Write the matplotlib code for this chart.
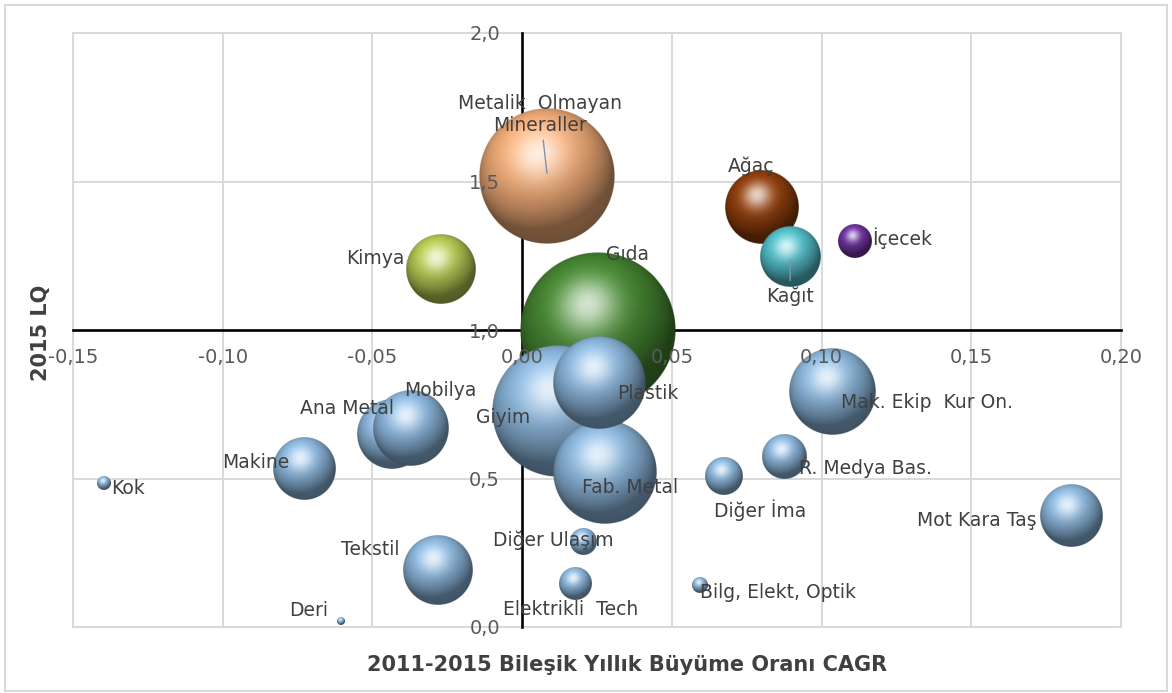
import numpy as np
import matplotlib
matplotlib.use("Agg")
import matplotlib.pyplot as plt
import matplotlib.colors as mcolors
from matplotlib.patches import Rectangle
from matplotlib.ticker import FuncFormatter

# --- Sector data: 2011-2015 CAGR, 2015 LQ and relative employment weight ---
# (listed in drawing order, later entries sit on top)
sectors = [
    "Gıda", "Metalik  Olmayan\nMineraller", "Giyim", "Fab. Metal", "Plastik",
    "Mak. Ekip  Kur On.", "Ana Metal", "Mobilya", "Ağaç", "Kimya", "Tekstil",
    "Makine", "Mot Kara Taş", "Kağıt", "R. Medya Bas.", "Diğer İma", "İçecek",
    "Elektrikli  Tech", "Diğer Ulaşım", "Bilg, Elekt, Optik", "Kok", "Deri",
]
cagr = [0.0254, 0.0084, 0.0120, 0.0277, 0.0257, 0.1035, -0.0434, -0.0371,
        0.0802, -0.0271, -0.0284, -0.0728, 0.1834, 0.0895, 0.0875, 0.0675,
        0.1112, 0.0177, 0.0204, 0.0595, -0.1396, -0.0605]
lq = [1.000, 1.518, 0.727, 0.522, 0.821, 0.791, 0.650, 0.670, 1.414, 1.205,
      0.192, 0.532, 0.374, 1.246, 0.572, 0.510, 1.300, 0.145, 0.286, 0.141,
      0.485, 0.020]
weight = [100.0, 76.0, 71.6, 44.4, 34.8, 30.4, 20.1, 23.7, 22.5, 20.1, 19.6,
          16.3, 15.8, 14.8, 7.96, 5.93, 4.75, 4.21, 2.78, 1.05, 0.80, 0.26]

x_ticks = [-0.15, -0.10, -0.05, 0.00, 0.05, 0.10, 0.15, 0.20]
y_ticks = [0.0, 0.5, 1.0, 1.5, 2.0]

# --- Styling ---
DEFAULT_COLOR = (0.56, 0.73, 0.88)
sector_colors = {
    "Gıda": (0.28, 0.54, 0.20),
    "Metalik  Olmayan\nMineraller": (0.97, 0.69, 0.48),
    "Kimya": (0.72, 0.80, 0.33),
    "Ağaç": (0.58, 0.25, 0.05),
    "Kağıt": (0.33, 0.76, 0.80),
    "İçecek": (0.44, 0.20, 0.64),
}
# label offsets from bubble centre, in pixels (x right, y up)
label_offsets = {
    "Gıda": (29, 75),
    "Metalik  Olmayan\nMineraller": (-7, 62),
    "Giyim": (-55, -6),
    "Fab. Metal": (25, -16),
    "Plastik": (49, -10),
    "Mak. Ekip  Kur On.": (95, -10),
    "Ana Metal": (-45, 25),
    "Mobilya": (29, 38),
    "Ağaç": (-11, 41),
    "Kimya": (-66, 11),
    "Tekstil": (-67, 20),
    "Makine": (-48, 6),
    "Mot Kara Taş": (-94, -5),
    "Kağıt": (0, -39),
    "R. Medya Bas.": (81, -11),
    "Diğer İma": (36, -35),
    "İçecek": (47, 3),
    "Elektrikli  Tech": (-5, -26),
    "Diğer Ulaşım": (-30, 2),
    "Bilg, Elekt, Optik": (78, -7),
    "Kok": (24, -6),
    "Deri": (-32, 11),
}
leader_lines = {"Metalik  Olmayan\nMineraller", "Kağıt"}
BUBBLE_SCALE = 0.2626  # largest bubble diameter as a fraction of plot height


def sphere(color, n=300):
    """RGBA texture of a shaded sphere."""
    base = np.array(mcolors.to_rgb(color))
    u = np.linspace(-1, 1, n)
    uu, vv = np.meshgrid(u, -u)
    rr = np.sqrt(uu**2 + vv**2)
    nz = np.sqrt(np.clip(1 - rr**2, 0, 1))
    L = np.array([-0.25, 0.62, 0.74])
    L /= np.linalg.norm(L)
    diff = np.clip(uu * L[0] + vv * L[1] + nz * L[2], 0, 1)
    H = L + np.array([0, 0, 1.0])
    H /= np.linalg.norm(H)
    spec = np.clip(uu * H[0] + vv * H[1] + nz * H[2], 0, 1) ** 14
    rim = 0.78 + 0.22 * np.sqrt(nz)
    rgb = base * (0.50 + 0.58 * diff[..., None]) * rim[..., None]
    rgb = rgb + (1 - rgb) * spec[..., None] * 0.75
    rgb = np.clip(rgb, 0, 1)
    alpha = np.clip((1 - rr) * n / 2, 0, 1)
    return np.dstack([rgb, alpha])


W, H_ = 1172, 693
fig = plt.figure(figsize=(W / 100, H_ / 100), dpi=100)
ax = fig.add_axes([73 / W, 66 / H_, 1048 / W, 594 / H_])
ax.set_xlim(x_ticks[0], x_ticks[-1])
ax.set_ylim(y_ticks[0], y_ticks[-1])
ax.set_autoscale_on(False)

# axes crossing at x=0 and y=1
for side in ("top", "right"):
    ax.spines[side].set_visible(False)
ax.spines["left"].set_position(("data", 0.0))
ax.spines["bottom"].set_position(("data", 1.0))
for side in ("left", "bottom"):
    ax.spines[side].set_color("black")
    ax.spines[side].set_linewidth(1.9)
    ax.spines[side].set_zorder(0.8)

ax.add_patch(Rectangle((0, 0), 1, 1, transform=ax.transAxes, fill=False,
                       ec="#d9d9d9", lw=1.5, zorder=0.5, clip_on=False))
for xv in x_ticks:
    if xv != 0:
        ax.axvline(xv, color="#d9d9d9", lw=1.4, zorder=0.4)
for yv in y_ticks:
    if yv != 1.0:
        ax.axhline(yv, color="#d9d9d9", lw=1.4, zorder=0.4)

ax.set_xticks(x_ticks)
ax.set_yticks(y_ticks)
ax.xaxis.set_major_formatter(FuncFormatter(lambda v, p: f"{v + 0.0:.2f}".replace(".", ",")))
ax.yaxis.set_major_formatter(FuncFormatter(lambda v, p: f"{v + 0.0:.1f}".replace(".", ",")))
ax.tick_params(length=0, labelsize=14, labelcolor="#595959")
ax.tick_params(axis="x", pad=13)
ax.tick_params(axis="y", pad=16)
ax.set_axisbelow(False)

# --- Bubbles ---
fig.canvas.draw()
x0, y0 = ax.transData.transform((0, 0))
x1, y1 = ax.transData.transform((1, 1))
px_x, px_y = x1 - x0, y1 - y0
ax_h_px = ax.get_window_extent().height
w_max = max(weight)

for i, (name, xv, yv, wv) in enumerate(zip(sectors, cagr, lq, weight)):
    r = 0.5 * BUBBLE_SCALE * ax_h_px * np.sqrt(wv / w_max)
    rx, ry = r / px_x, r / px_y
    tex = sphere(sector_colors.get(name, DEFAULT_COLOR))
    ax.imshow(tex, extent=[xv - rx, xv + rx, yv - ry, yv + ry], aspect="auto",
              interpolation="antialiased", zorder=1 + i * 0.01)

    dx, dy = label_offsets[name]
    arrow = None
    if name in leader_lines:
        arrow = dict(arrowstyle="-", color="#7f93a8", lw=1.0, shrinkA=2, shrinkB=2)
    ax.annotate(name, xy=(xv, yv), xytext=(dx, dy), textcoords="offset pixels",
                ha="center", va="center", fontsize=13.5, color="#404040",
                family="DejaVu Sans", zorder=5, arrowprops=arrow,
                annotation_clip=False)

# --- Axis titles ---
fig.text(627 / W, 1 - 665 / H_, "2011-2015 Bileşik Yıllık Büyüme Oranı CAGR",
         ha="center", va="center", fontsize=15, fontweight="bold", color="#404040")
fig.text(41 / W, 1 - 333 / H_, "2015 LQ", ha="center", va="center", rotation=90,
         fontsize=15, fontweight="bold", color="#404040")

# chart area border
fig.add_artist(Rectangle((5 / W, 2 / H_), 1162 / W, 686 / H_, transform=fig.transFigure,
                         fill=False, ec="#d9d9d9", lw=1.5))

fig.savefig("out.png", dpi=100)
